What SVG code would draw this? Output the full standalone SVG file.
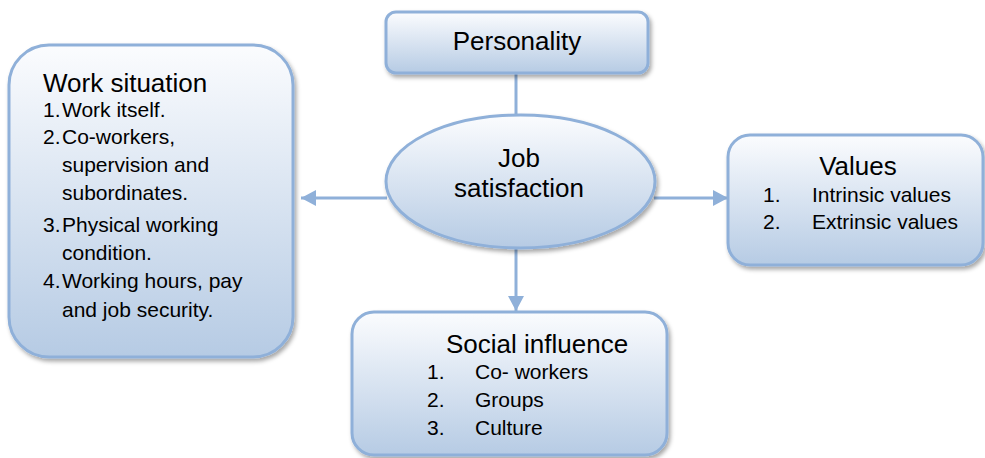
<svg xmlns="http://www.w3.org/2000/svg" width="985" height="458" viewBox="0 0 985 458">
<style>
.box{stroke:#8FB0D9;stroke-width:3;filter:url(#sh)}
.t{font-family:"Liberation Sans",Arial,sans-serif;fill:#000}
.h{font-size:26px}
.i{font-size:21px}
.c{stroke:#8FB0D9;stroke-width:3;fill:none}
</style>
<defs>
<linearGradient id="g" x1="0" y1="0" x2="0" y2="1">
<stop offset="0" stop-color="#FBFCFE"/>
<stop offset="1" stop-color="#B6CBE4"/>
</linearGradient>
<filter id="sh" x="-10%" y="-10%" width="125%" height="130%">
<feDropShadow dx="2" dy="3" stdDeviation="2" flood-color="#000" flood-opacity="0.35"/>
</filter>
<marker id="ah" markerUnits="userSpaceOnUse" markerWidth="16" markerHeight="16" viewBox="0 0 16 16" refX="15" refY="8" orient="auto">
<path d="M0,0 L15,8 L0,16 Z" fill="#8FB0D9"/>
</marker>
</defs>
<g id="connectors">
<line class="c" x1="516" y1="73" x2="516" y2="116"/>
<line class="c" x1="387" y1="198" x2="301" y2="198" marker-end="url(#ah)"/>
<line class="c" x1="654" y1="198" x2="728" y2="198" marker-end="url(#ah)"/>
<line class="c" x1="516" y1="247" x2="516" y2="311" marker-end="url(#ah)"/>
</g>
<g id="work-situation">
<rect class="box" x="9" y="45" width="284" height="312" rx="40" fill="url(#g)"/>
<text class="t h" x="43" y="92">Work situation</text>
<g class="t i">
<text x="43" y="117">1.</text><text x="62" y="117">Work itself.</text>
<text x="43" y="144">2.</text><text x="62" y="144">Co-workers,</text>
<text x="62" y="172">supervision and</text>
<text x="62" y="200">subordinates.</text>
<text x="43" y="232">3.</text><text x="62" y="232">Physical working</text>
<text x="62" y="260">condition.</text>
<text x="43" y="288">4.</text><text x="62" y="288">Working hours, pay</text>
<text x="62" y="317">and job security.</text>
</g>
</g>
<g id="personality">
<rect class="box" x="386" y="12" width="262" height="61" rx="10" fill="url(#g)"/>
<text class="t h" x="517" y="50" text-anchor="middle">Personality</text>
</g>
<g id="job-satisfaction">
<ellipse class="box" cx="520.5" cy="181.5" rx="134.5" ry="66.5" fill="url(#g)"/>
<text class="t h" x="519" y="167" text-anchor="middle">Job</text>
<text class="t h" x="519" y="197" text-anchor="middle">satisfaction</text>
</g>
<g id="values">
<rect class="box" x="728" y="135" width="255" height="130" rx="22" fill="url(#g)"/>
<text class="t h" x="858" y="175" text-anchor="middle">Values</text>
<g class="t i">
<text x="763" y="202">1.</text><text x="812" y="202">Intrinsic values</text>
<text x="763" y="229">2.</text><text x="812" y="229">Extrinsic values</text>
</g>
</g>
<g id="social-influence">
<rect class="box" x="352" y="312" width="315" height="143" rx="22" fill="url(#g)"/>
<text class="t h" x="446" y="353">Social influence</text>
<g class="t i">
<text x="427" y="379">1.</text><text x="475" y="379">Co- workers</text>
<text x="427" y="407">2.</text><text x="475" y="407">Groups</text>
<text x="427" y="435">3.</text><text x="475" y="435">Culture</text>
</g>
</g>
</svg>
